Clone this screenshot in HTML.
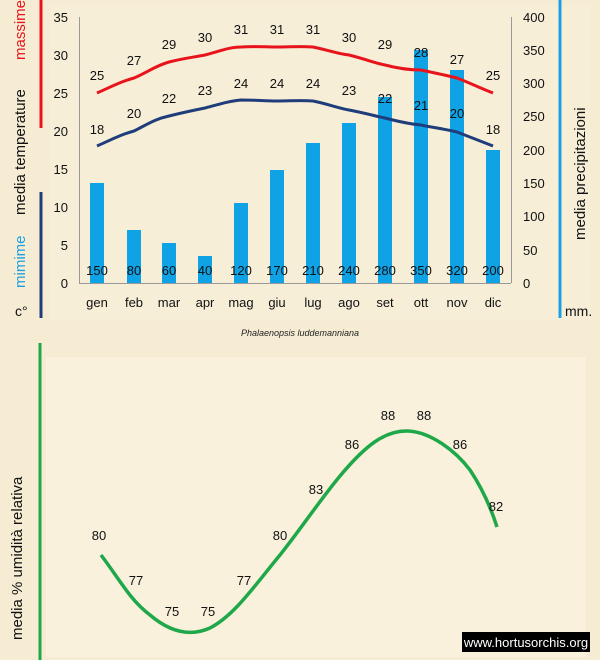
<!DOCTYPE html>
<html><head><meta charset="utf-8"><style>
body{margin:0;width:600px;height:660px;background:#f5ecd3;overflow:hidden}
svg{display:block}
text{font-family:"Liberation Sans",sans-serif}
</style></head><body>
<svg width="600" height="660" viewBox="0 0 600 660" xmlns="http://www.w3.org/2000/svg">
<rect width="600" height="660" fill="#f5ecd3"/>
<rect x="46" y="357" width="540" height="300" fill="#f9f1dc"/>
<rect x="50" y="5" width="540" height="315" fill="#f7eed8"/>
<!-- side bars -->
<line x1="41" y1="0" x2="41" y2="128" stroke="#e8141c" stroke-width="3"/>
<line x1="41" y1="192" x2="41" y2="318" stroke="#1f3d7a" stroke-width="3"/>
<line x1="560" y1="0" x2="560" y2="318" stroke="#1ba1e2" stroke-width="3"/>
<line x1="40" y1="343" x2="40" y2="660" stroke="#1fa84a" stroke-width="3"/>
<text transform="translate(25,60) rotate(-90)" font-size="15" fill="#e8141c">massime</text>
<text transform="translate(25,215) rotate(-90)" font-size="15" fill="#111">media  temperature</text>
<text transform="translate(25,288) rotate(-90)" font-size="15" fill="#1ba1e2">mimime</text>
<text x="15" y="316" font-size="14" fill="#111">c°</text>
<text transform="translate(585,240) rotate(-90)" font-size="15" fill="#111">media  precipitazioni</text>
<text x="565" y="316" font-size="14" fill="#111">mm.</text>
<text transform="translate(22,640) rotate(-90)" font-size="15" fill="#111">media %  umidità relativa</text>
<!-- axes -->
<g stroke="#999" stroke-width="1">
<line x1="79.5" y1="17" x2="79.5" y2="283"/>
<line x1="511.5" y1="17" x2="511.5" y2="283"/>
<line x1="79" y1="283.5" x2="511" y2="283.5"/>
</g>
<g font-size="13" fill="#111" text-anchor="end">
<text x="68" y="288">0</text><text x="68" y="250">5</text><text x="68" y="212">10</text><text x="68" y="174">15</text><text x="68" y="136">20</text><text x="68" y="98">25</text><text x="68" y="60">30</text><text x="68" y="22">35</text>
</g>
<g font-size="13" fill="#111">
<text x="523" y="288">0</text><text x="523" y="255">50</text><text x="523" y="221">100</text><text x="523" y="188">150</text><text x="523" y="155">200</text><text x="523" y="121">250</text><text x="523" y="88">300</text><text x="523" y="55">350</text><text x="523" y="22">400</text>
</g>
<!-- bars -->
<g fill="#0fa3e6">
<rect x="90" y="183" width="14" height="100"/>
<rect x="127" y="230" width="14" height="53"/>
<rect x="162" y="243" width="14" height="40"/>
<rect x="198" y="256" width="14" height="27"/>
<rect x="234" y="203" width="14" height="80"/>
<rect x="270" y="170" width="14" height="113"/>
<rect x="306" y="143" width="14" height="140"/>
<rect x="342" y="123" width="14" height="160"/>
<rect x="378" y="97" width="14" height="186"/>
<rect x="414" y="50" width="14" height="233"/>
<rect x="450" y="70" width="14" height="213"/>
<rect x="486" y="150" width="14" height="133"/>
</g>
<g font-size="13" fill="#111" text-anchor="middle">
<text x="97" y="275">150</text><text x="134" y="275">80</text><text x="169" y="275">60</text><text x="205" y="275">40</text><text x="241" y="275">120</text><text x="277" y="275">170</text><text x="313" y="275">210</text><text x="349" y="275">240</text><text x="385" y="275">280</text><text x="421" y="275">350</text><text x="457" y="275">320</text><text x="493" y="275">200</text>
<text x="97" y="307">gen</text><text x="134" y="307">feb</text><text x="169" y="307">mar</text><text x="205" y="307">apr</text><text x="241" y="307">mag</text><text x="277" y="307">giu</text><text x="313" y="307">lug</text><text x="349" y="307">ago</text><text x="385" y="307">set</text><text x="421" y="307">ott</text><text x="457" y="307">nov</text><text x="493" y="307">dic</text>
</g>
<!-- temp lines -->
<path d="M97,93 C115,85 120,82 134,78 C148,72 155,66 169,62 C185,58 195,57 205,55 C220,51 230,47 241,47 C255,46 265,47 277,47 C290,47 300,46 313,47 C328,50 338,54 349,55 C365,59 375,63 385,65 C400,69 410,70 421,70 C435,73 445,75 457,78 C470,83 480,88 493,93" fill="none" stroke="#e8141c" stroke-width="3"/>
<path d="M97,146 C115,138 120,135 134,131 C148,124 155,119 169,116 C185,112 195,110 205,108 C220,104 230,101 241,100 C255,100 265,101 277,101 C290,101 300,100 313,101 C328,104 338,108 349,110 C365,113 375,116 385,118 C400,122 410,124 421,125 C435,128 445,129 457,132 C470,137 480,141 493,146" fill="none" stroke="#1f3d7a" stroke-width="3"/>
<g font-size="13" fill="#111" text-anchor="middle">
<text x="97" y="80">25</text><text x="134" y="65">27</text><text x="169" y="49">29</text><text x="205" y="42">30</text><text x="241" y="34">31</text><text x="277" y="34">31</text><text x="313" y="34">31</text><text x="349" y="42">30</text><text x="385" y="49">29</text><text x="421" y="57">28</text><text x="457" y="64">27</text><text x="493" y="80">25</text>
<text x="97" y="134">18</text><text x="134" y="118">20</text><text x="169" y="103">22</text><text x="205" y="95">23</text><text x="241" y="88">24</text><text x="277" y="88">24</text><text x="313" y="88">24</text><text x="349" y="95">23</text><text x="385" y="103">22</text><text x="421" y="110">21</text><text x="457" y="118">20</text><text x="493" y="134">18</text>
</g>
<text x="300" y="336" font-size="9" font-style="italic" fill="#222" text-anchor="middle">Phalaenopsis luddemanniana</text>
<!-- humidity -->
<path d="M101,555 C120,580 130,600 150,615 C170,632 190,637 210,628 C235,615 255,585 280,555 C300,530 320,500 340,476 C365,446 385,430 408,431 C430,432 455,450 470,470 C482,488 490,505 497,527" fill="none" stroke="#1fa84a" stroke-width="3.5"/>
<g font-size="13" fill="#111" text-anchor="middle">
<text x="99" y="540">80</text><text x="136" y="585">77</text><text x="172" y="616">75</text><text x="208" y="616">75</text><text x="244" y="585">77</text><text x="280" y="540">80</text><text x="316" y="494">83</text><text x="352" y="449">86</text><text x="388" y="420">88</text><text x="424" y="420">88</text><text x="460" y="449">86</text><text x="496" y="511">82</text>
</g>
<rect x="462" y="632" width="128" height="20" fill="#000"/>
<text x="526" y="647" font-size="13" fill="#fff" text-anchor="middle">www.hortusorchis.org</text>
</svg>
</body></html>
